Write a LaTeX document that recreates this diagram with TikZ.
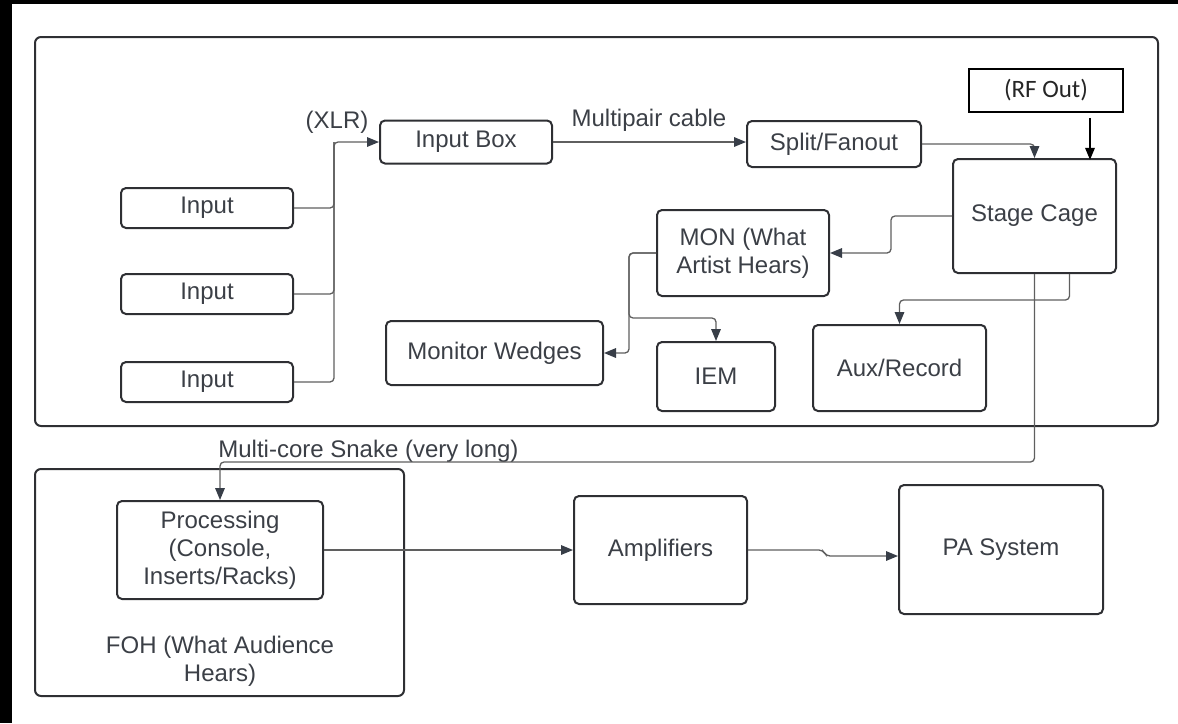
\documentclass[tikz,border=0pt]{standalone}
\usepackage{fontspec}
\setmainfont{Liberation Sans}
\newfontfamily\rffont{Carlito}
\usetikzlibrary{arrows.meta,positioning,calc}
\definecolor{txtc}{HTML}{3B3F46}
\definecolor{boxc}{HTML}{2E2F33}
\definecolor{linec}{HTML}{5F5F5F}
\definecolor{tipc}{HTML}{383E48}

\begin{document}
\begin{tikzpicture}[x=0.5pt,y=-0.5pt,
  every node/.style={font=\fontsize{12}{14}\selectfont,text=txtc},
  group/.style={rectangle,draw=boxc,line width=1pt,rounded corners=3pt,inner sep=0pt},
  block/.style={group,rounded corners=2.5pt,align=center},
  rfbox/.style={rectangle,draw=black,line width=0.8pt,inner sep=0pt,font=\rffont\fontsize{12.5}{15}\selectfont,text=black!85},
  lbl/.style={inner sep=0pt},
  wire/.style={draw=linec,line width=0.65pt,rounded corners=2pt},
  line/.style={wire,-{Triangle[length=6pt,width=4.8pt,color=tipc]}},
  rfline/.style={draw=black,line width=0.8pt,-{Triangle[length=6pt,width=4.8pt,color=black]}}]
\useasboundingbox (0,0) rectangle (1178,723);
\fill[black] (0,0) rectangle (12,723);
\fill[black] (0,0) rectangle (1178,4);
\node[group,minimum width=561.5pt,minimum height=194.5pt] (stage) at (596.5,231.5) {};
\node[group,minimum width=184.5pt,minimum height=113.5pt] (foh) at (219.5,582.5) {};
\node[block,minimum width=86pt,minimum height=20pt] (in1) at (207,208) {Input};
\node[block,minimum width=86pt,minimum height=20pt] (in2) at (207,294) {Input};
\node[block,minimum width=86pt,minimum height=20pt] (in3) at (207,382) {Input};
\node[block,minimum width=86pt,minimum height=21.5pt] (inbox) at (466,142) {Input Box};
\node[block,minimum width=87pt,minimum height=23pt] (split) at (834,144) {Split/Fanout};
\node[block,minimum width=81.5pt,minimum height=57pt] (cage) at (1034.5,216) {Stage Cage};
\node[rfbox,minimum width=77pt,minimum height=21.5pt] (rf) at (1046,90.5) {(RF Out)};
\node[block,minimum width=86pt,minimum height=43pt] (mon) at (743,253) {MON (What\\Artist Hears)};
\node[block,minimum width=108.5pt,minimum height=32pt] (wedges) at (494.5,353) {Monitor Wedges};
\node[block,minimum width=59pt,minimum height=34.5pt] (iem) at (716,376.5) {IEM};
\node[block,minimum width=86.5pt,minimum height=43pt] (aux) at (899.5,368) {Aux/Record};
\node[block,minimum width=103pt,minimum height=49pt] (proc) at (220,550) {Processing\\(Console,\\Inserts/Racks)};
\node[block,minimum width=86.5pt,minimum height=54pt] (amp) at (660.5,550) {Amplifiers};
\node[block,minimum width=102pt,minimum height=64.5pt] (pa) at (1001,549.5) {PA System};
\node[lbl,align=center] (fohlbl) at (220,661) {FOH (What Audience\\Hears)};
\node[lbl] (xlr) at (337,122) {(XLR)};
\node[lbl] (multi) at (649,120) {Multipair cable};
\node[lbl,anchor=west] (snake) at (218,451) {Multi-core Snake (very long)};
\coordinate (bus) at ($(inbox.west)+(-45,0)$);
\draw[wire] (in2.east) -| (bus);
\draw[wire] (in3.east) -| (bus);
\draw[line] (in1.east) -| (bus) -- (inbox.west);
\draw[line] (inbox.east) -- (inbox.east -| split.west);
\draw[line] (split.east) -| (cage.north);
\draw[rfline] ($(rf.south)+(44,5)$) -- ++(0,42);
\draw[line] (cage.west) -- ++(-61,0) |- (mon.east);
\draw[line] ($(cage.south)+(35,0)$) -- ++(0,26) -| (aux.north);
\draw[line] (cage.south) -- ++(0,188) -| (proc.north);
\draw[line] (mon.west) -- ++(-27,0) |- (wedges.east);
\draw[line] (mon.west) -- ++(-27,0) -- ++(0,65) -| (iem.north);
\draw[line] (proc.east) -- (amp.west);
\draw[line] (amp.east) -- ++(75,0) -- ++(3,6) -- ($(pa.west)+(0,6.5)$);
\end{tikzpicture}
\end{document}
